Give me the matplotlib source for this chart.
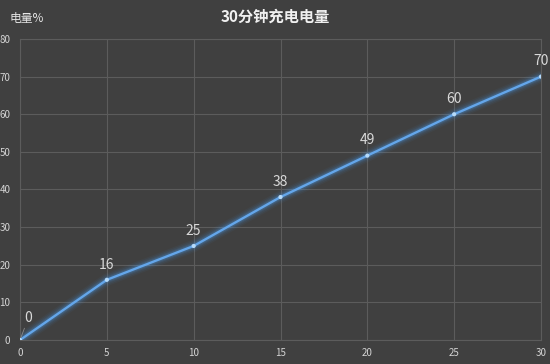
import matplotlib
matplotlib.use("Agg")
import matplotlib.pyplot as plt

plt.rcParams['font.family'] = ['Noto Sans CJK SC', 'DejaVu Sans']

minutes = [0, 5, 10, 15, 20, 25, 30]
charge = [0, 16, 25, 38, 49, 60, 70]
xticks = [0, 5, 10, 15, 20, 25, 30]
yticks = [0, 10, 20, 30, 40, 50, 60, 70, 80]
title = "30分钟充电电量"
ylabel = "电量%"

bg = "#404040"
fig = plt.figure(figsize=(5.5, 3.64), dpi=100, facecolor=bg)
ax = fig.add_axes([0.0364, 0.0659, 0.9472, 0.827], facecolor=bg)

line_color = "#64a6ea"
for lw, a in [(9, 0.05), (7, 0.08), (5, 0.12), (3.5, 0.2)]:
    ax.plot(minutes, charge, color="#4a9ae8", lw=lw, alpha=a, solid_capstyle='round', zorder=2)
ax.plot(minutes, charge, color=line_color, lw=1.7, zorder=3)
ax.scatter(minutes, charge, s=9, color="#b5dafa", zorder=4, edgecolors='none')

for i, (x, y) in enumerate(zip(minutes, charge)):
    if i == 0:
        ax.annotate(str(y), xy=(x, y), xytext=(6, 16), textcoords='offset points',
                    color="#d9d9d9", fontsize=10, ha='center', va='center',
                    arrowprops=dict(arrowstyle='-', color='#8a8a8a', lw=0.6,
                                    shrinkA=0.5, shrinkB=1.5))
    else:
        ax.annotate(str(y), xy=(x, y), xytext=(0, 11), textcoords='offset points',
                    color="#d9d9d9", fontsize=10, ha='center', va='center')

ax.set_xlim(0, 30)
ax.set_ylim(0, 80)
ax.set_xticks(xticks)
ax.set_yticks(yticks)
ax.grid(True, color="#5c5c5c", lw=0.8)
ax.set_axisbelow(True)
for s in ax.spines.values():
    s.set_color("#5c5c5c")
    s.set_linewidth(0.8)
ax.tick_params(axis='both', length=0, colors="#d4d4d4", labelsize=7, pad=6)
ax.tick_params(axis='y', pad=7)

fig.text(0.5, 0.955, title, color="#f0f0f0", fontsize=11, fontweight='bold', ha='center', va='center')
fig.text(0.018, 0.948, ylabel, color="#e6e6e6", fontsize=8.5, ha='left', va='center')

fig.savefig("out.png", dpi=100, facecolor=bg)
